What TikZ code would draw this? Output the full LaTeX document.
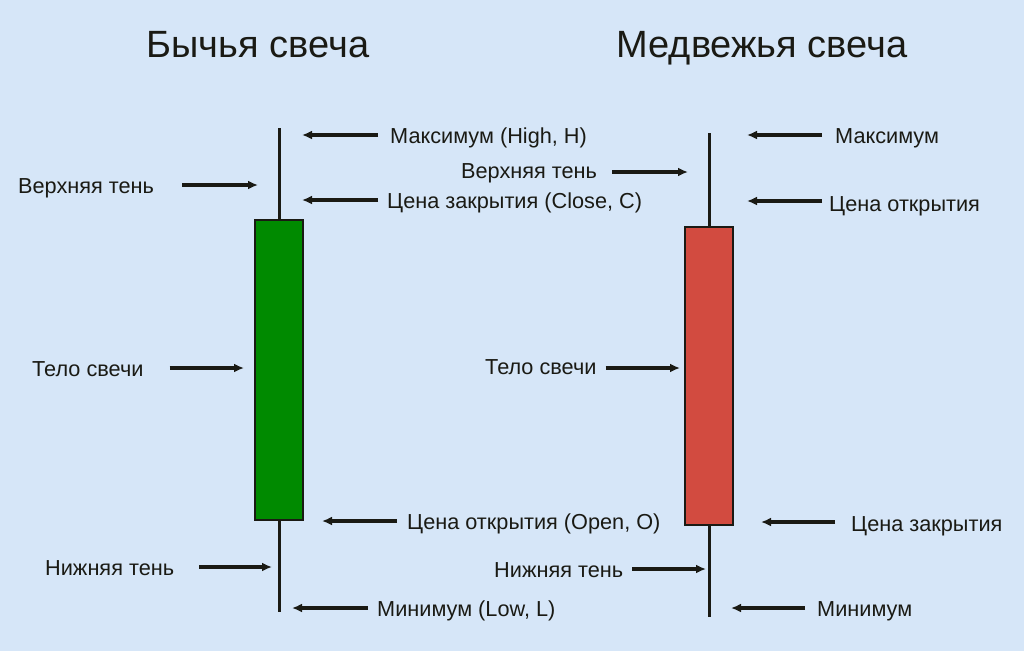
\documentclass[tikz,border=0pt]{standalone}
\usepackage{fontspec}
\setmainfont{Liberation Sans}
\usetikzlibrary{arrows.meta,positioning}
\definecolor{bg}{HTML}{D6E6F8}
\definecolor{bull}{HTML}{008A00}
\definecolor{bear}{HTML}{D24B40}
\definecolor{ink}{HTML}{1A1A14}
\tikzset{lbl/.style={inner sep=0pt,anchor=base west,font=\fontsize{21.7}{25}\selectfont,text=ink},
  ttl/.style={inner sep=0pt,anchor=base,font=\fontsize{38}{44}\selectfont,text=ink},
  pointer/.style={-{Latex[length=10pt,width=9pt]},line width=3.2pt,draw=ink},
  wick/.style={line width=3pt,draw=ink},
  body/.style={draw=ink,line width=2pt}}
\begin{document}
\begin{tikzpicture}[x=1pt,y=-1pt]
\useasboundingbox[fill=bg] (0,0) rectangle (1024,651);
\node[ttl] (t1) at (258,57) {Бычья свеча};
\node[ttl] (t2) at (762,57) {Медвежья свеча};
% bullish candle
\draw[wick] (279,128) -- (279,612);
\draw[body,fill=bull] (255,220) rectangle (303,520);
\node[lbl] (hi1) at (390,143) {Максимум (High, H)};
\node[lbl] (up1) at (18,193) {Верхняя тень};
\node[lbl] (cl1) at (387,208) {Цена закрытия (Close, C)};
\node[lbl] (bd1) at (32,376) {Тело свечи};
\node[lbl] (op1) at (407,529) {Цена открытия (Open, O)};
\node[lbl] (dn1) at (45,575) {Нижняя тень};
\node[lbl] (lo1) at (377,616) {Минимум (Low, L)};
\coordinate (hi1t) at (302,135);
\coordinate (up1t) at (258,185);
\coordinate (cl1t) at (302,200);
\coordinate (bd1t) at (244,368);
\coordinate (op1t) at (322,521);
\coordinate (dn1t) at (272,567);
\coordinate (lo1t) at (292,608);
\draw[pointer] ([xshift=-12pt]hi1.west |- hi1t) -- (hi1t);
\draw[pointer] ([xshift=28pt]up1.east |- up1t) -- (up1t);
\draw[pointer] ([xshift=-9pt]cl1.west |- cl1t) -- (cl1t);
\draw[pointer] ([xshift=26pt]bd1.east |- bd1t) -- (bd1t);
\draw[pointer] ([xshift=-10pt]op1.west |- op1t) -- (op1t);
\draw[pointer] ([xshift=25pt]dn1.east |- dn1t) -- (dn1t);
\draw[pointer] ([xshift=-9pt]lo1.west |- lo1t) -- (lo1t);
% bearish candle
\draw[wick] (709,133) -- (709,617);
\draw[body,fill=bear] (685,227) rectangle (733,525);
\node[lbl] (hi2) at (835,143) {Максимум};
\node[lbl] (up2) at (461,178) {Верхняя тень};
\node[lbl] (op2) at (829,211) {Цена открытия};
\node[lbl] (bd2) at (485,374) {Тело свечи};
\node[lbl] (cl2) at (851,531) {Цена закрытия};
\node[lbl] (dn2) at (494,577) {Нижняя тень};
\node[lbl] (lo2) at (817,616) {Минимум};
\coordinate (hi2t) at (747,135);
\coordinate (up2t) at (688,172);
\coordinate (op2t) at (747,201);
\coordinate (bd2t) at (680,368);
\coordinate (cl2t) at (761,522);
\coordinate (dn2t) at (706,569);
\coordinate (lo2t) at (731,608);
\draw[pointer] ([xshift=-13pt]hi2.west |- hi2t) -- (hi2t);
\draw[pointer] ([xshift=15pt]up2.east |- up2t) -- (up2t);
\draw[pointer] ([xshift=-7pt]op2.west |- op2t) -- (op2t);
\draw[pointer] ([xshift=9pt]bd2.east |- bd2t) -- (bd2t);
\draw[pointer] ([xshift=-16pt]cl2.west |- cl2t) -- (cl2t);
\draw[pointer] ([xshift=9pt]dn2.east |- dn2t) -- (dn2t);
\draw[pointer] ([xshift=-12pt]lo2.west |- lo2t) -- (lo2t);
\end{tikzpicture}
\end{document}
